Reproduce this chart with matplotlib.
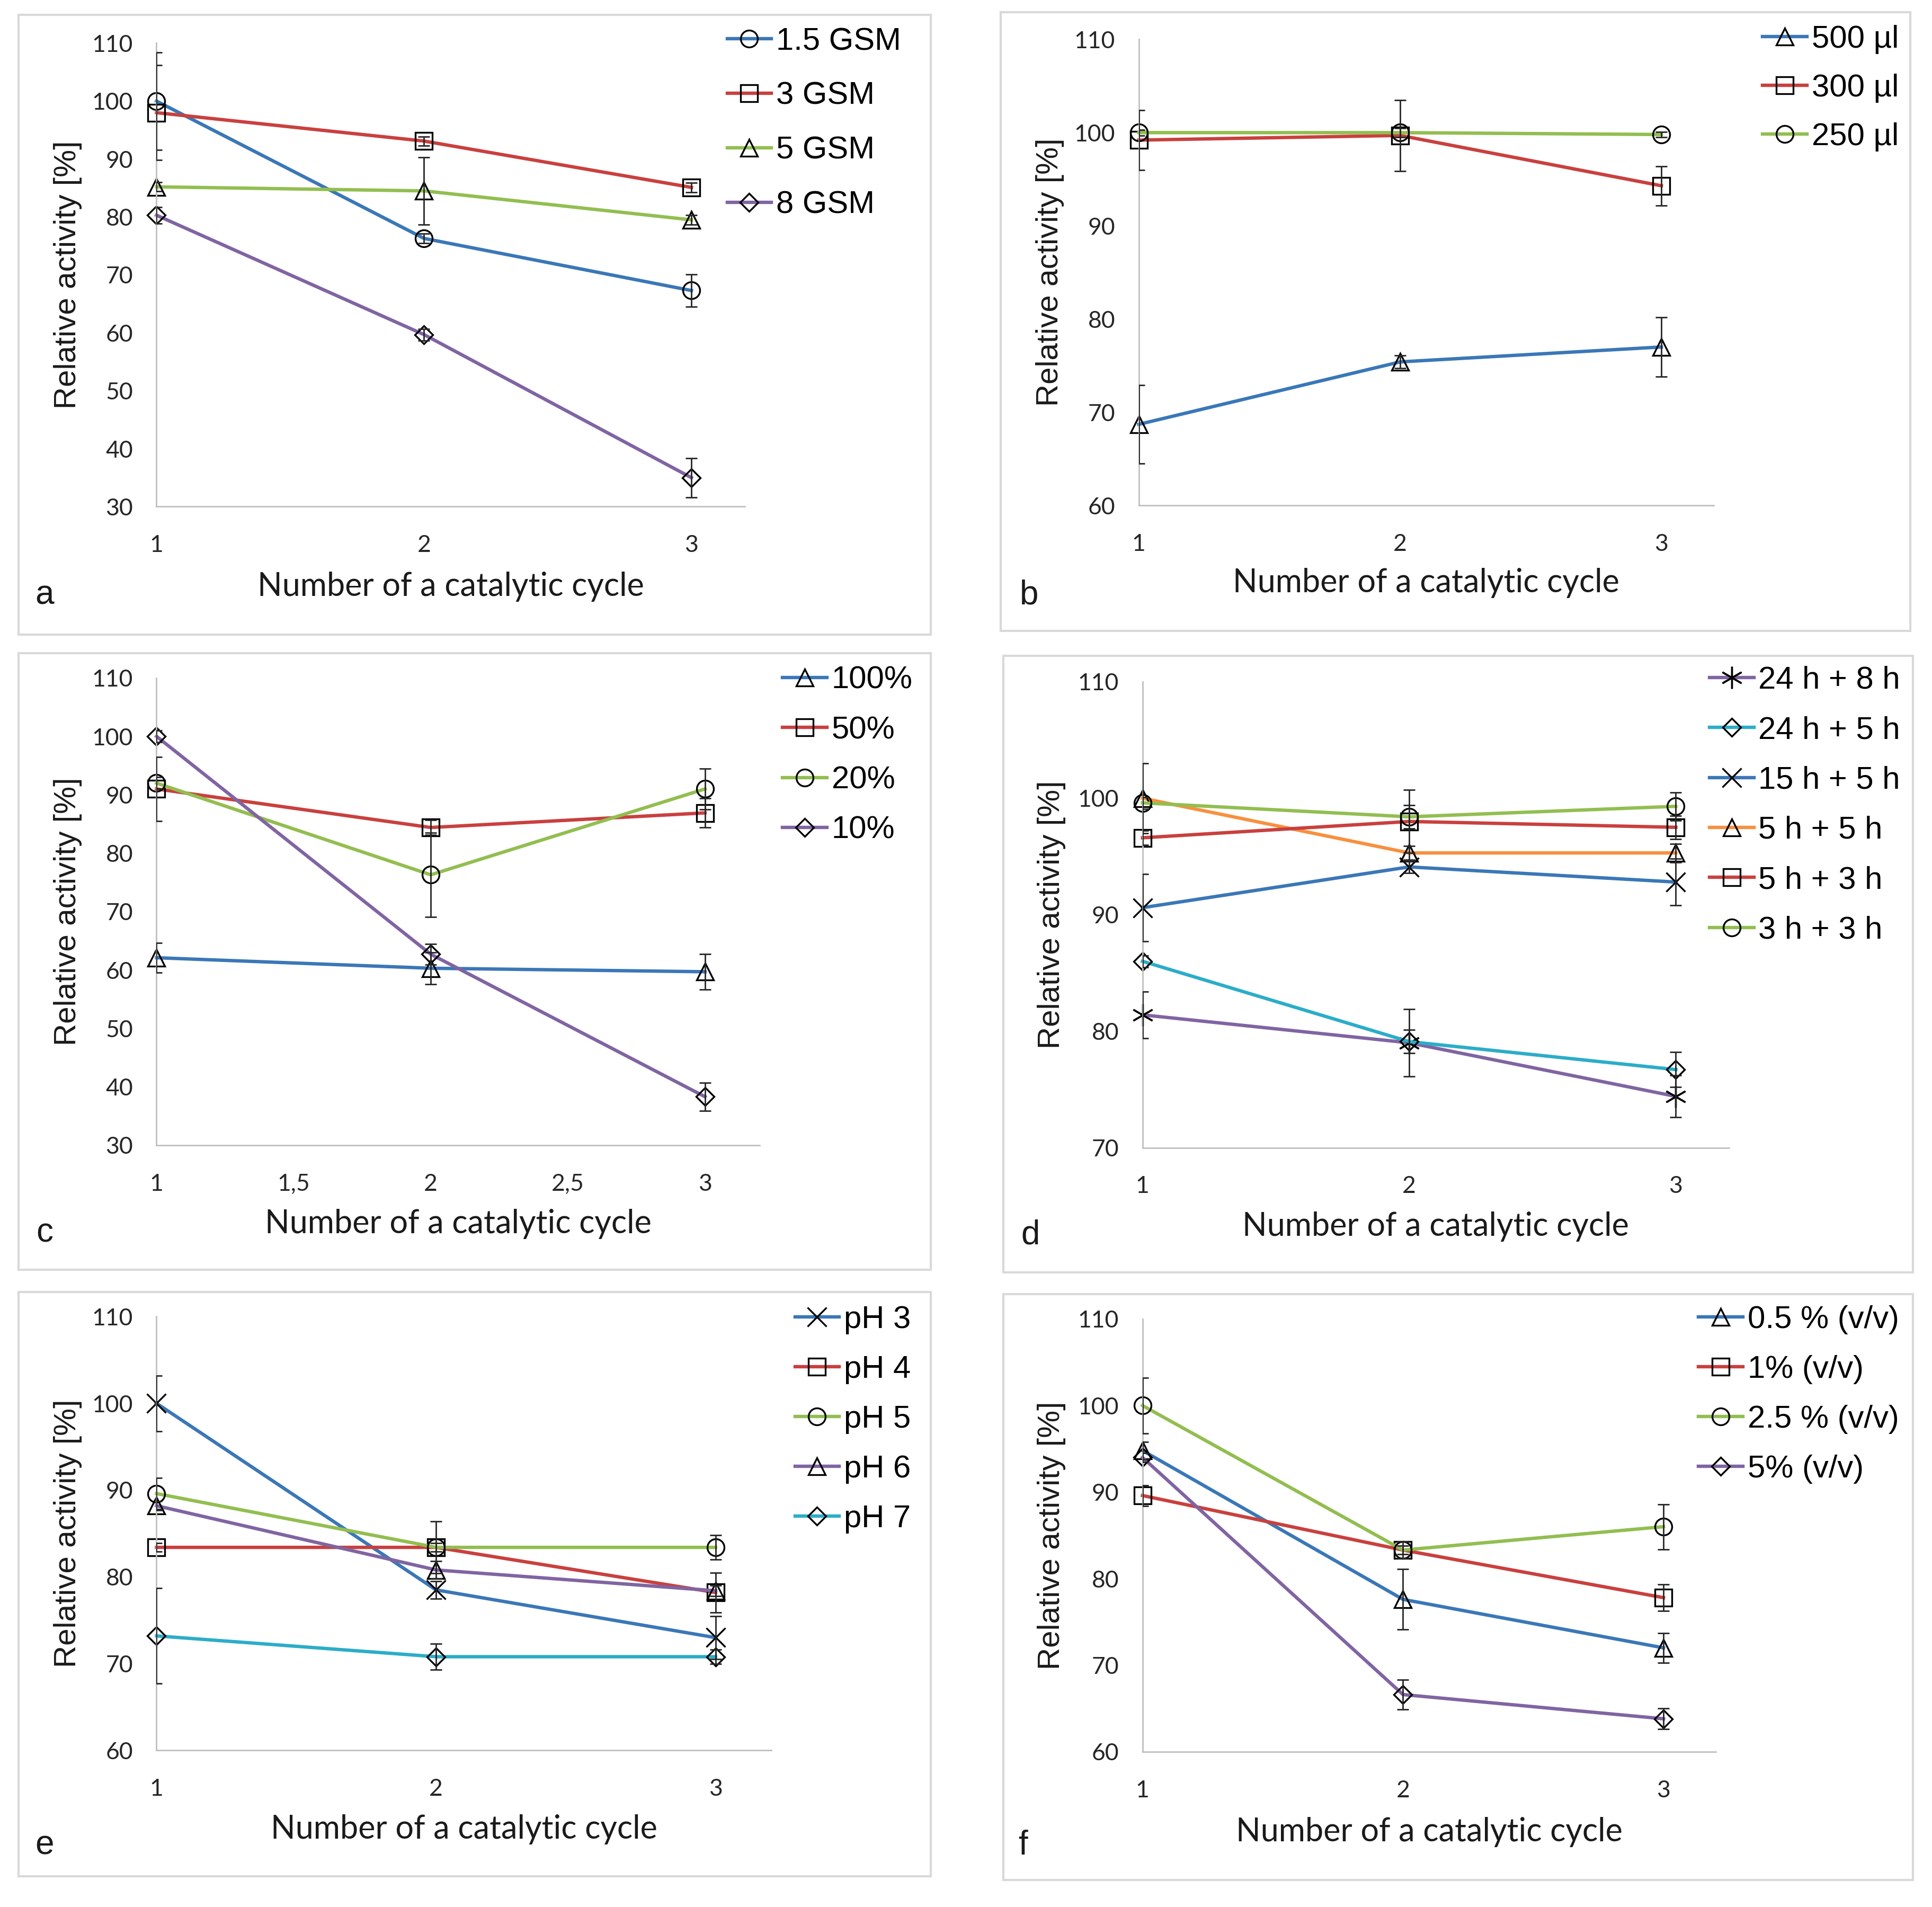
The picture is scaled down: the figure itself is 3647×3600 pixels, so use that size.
import numpy as np
import matplotlib
matplotlib.use("Agg")
import matplotlib.pyplot as plt
from matplotlib.patches import Rectangle

# ---- data ----
cycles = [1, 2, 3]

a_labels = ["1.5 GSM", "3 GSM", "5 GSM", "8 GSM"]
a_vals = [[100.0, 76.3, 67.3], [98.0, 93.1, 85.1], [85.2, 84.5, 79.5], [80.3, 59.7, 35.0]]
a_err = [[8.4, 0.8, 2.8], [8.2, 0.8, 0.8], [0.8, 5.8, 0.8], [1.4, 1.0, 3.4]]

b_labels = ["500 µl", "300 µl", "250 µl"]
b_vals = [[68.7, 75.4, 77.0], [99.2, 99.7, 94.3], [100.0, 100.0, 99.8]]
b_err = [[4.2, 0.7, 3.2], [3.2, 3.8, 2.1], [0.3, 0.5, 0.3]]

c_labels = ["100%", "50%", "20%", "10%"]
c_vals = [[62.1, 60.3, 59.7], [91.0, 84.4, 86.9], [92.0, 76.3, 91.0], [100.0, 62.7, 38.3]]
c_err = [[2.5, 2.7, 3.0], [5.5, 1.3, 2.5], [1.0, 7.2, 3.5], [1.0, 1.8, 2.4]]

d_labels = ["24 h + 8 h", "24 h + 5 h", "15 h + 5 h", "5 h + 5 h", "5 h + 3 h", "3 h + 3 h"]
d_vals = [[81.4, 79.0, 74.4], [86.0, 79.1, 76.7], [90.6, 94.1, 92.8],
          [100.0, 95.3, 95.3], [96.6, 98.0, 97.5], [99.6, 98.4, 99.3]]
d_err = [[2.0, 2.9, 1.8], [0.5, 1.0, 1.5], [2.9, 0.5, 2.0],
         [3.0, 0.6, 0.8], [0.6, 2.7, 1.0], [0.5, 1.0, 1.2]]

e_labels = ["pH 3", "pH 4", "pH 5", "pH 6", "pH 7"]
e_vals = [[100.0, 78.5, 73.0], [83.4, 83.4, 78.2], [89.6, 83.4, 83.4], [88.2, 80.8, 78.4], [73.2, 70.8, 70.8]]
e_err = [[3.2, 1.0, 2.5], [0.5, 3.0, 2.3], [1.8, 0.5, 1.4], [0.5, 1.0, 0.6], [5.5, 1.5, 0.8]]

f_labels = ["0.5 % (v/v)", "1% (v/v)", "2.5 % (v/v)", "5% (v/v)"]
f_vals = [[94.8, 77.6, 72.0], [89.6, 83.3, 77.8], [100.0, 83.3, 86.0], [94.0, 66.6, 63.8]]
f_err = [[1.0, 3.5, 1.7], [1.2, 1.0, 1.5], [3.2, 0.5, 2.6], [0.5, 1.7, 1.2]]

# ---- styles ----
BLUE, RED, GREEN = "#3A77B7", "#C9403E", "#92BE50"
PURPLE, CYAN, ORANGE = "#8064A2", "#2BADC8", "#F7903F"
AST = (6, 2, 0)

panels = [
    dict(letter="a", labels=a_labels, vals=a_vals, err=a_err,
         colors=[BLUE, RED, GREEN, PURPLE], markers=["o", "s", "^", "D"],
         ylim=(30, 110), box=(15, 12, 755, 515), ax=(127, 35, 604.4, 411),
         leg=(590, 22), lsp=0.8, ylx=55, xly=476, let=(36, 483)),
    dict(letter="b", labels=b_labels, vals=b_vals, err=b_err,
         colors=[BLUE, RED, GREEN], markers=["^", "s", "o"],
         ylim=(60, 110), box=(812, 10, 1550, 512), ax=(924, 32, 1390.4, 410),
         leg=(1430, 20), lsp=0.62, ylx=852, xly=473, let=(835, 483)),
    dict(letter="c", labels=c_labels, vals=c_vals, err=c_err,
         colors=[BLUE, RED, GREEN, PURPLE], markers=["^", "s", "o", "D"],
         ylim=(30, 110), box=(15, 530, 755, 1030), ax=(127, 550, 616.5, 929),
         leg=(635, 540), lsp=0.66, ylx=55, xly=993, let=(36, 1000), half=True),
    dict(letter="d", labels=d_labels, vals=d_vals, err=d_err,
         colors=[PURPLE, CYAN, BLUE, ORANGE, RED, GREEN], markers=[AST, "D", "x", "^", "s", "o"],
         ylim=(70, 110), box=(814, 532, 1552, 1032), ax=(927, 553, 1403, 931),
         leg=(1387, 540), lsp=0.66, ylx=853, xly=995, let=(836, 1002)),
    dict(letter="e", labels=e_labels, vals=e_vals, err=e_err,
         colors=[BLUE, RED, GREEN, PURPLE, CYAN], markers=["x", "s", "o", "^", "D"],
         ylim=(60, 110), box=(15, 1048, 755, 1522), ax=(127, 1068, 626, 1420),
         leg=(645, 1059), lsp=0.65, ylx=55, xly=1484, let=(36, 1497)),
    dict(letter="f", labels=f_labels, vals=f_vals, err=f_err,
         colors=[BLUE, RED, GREEN, PURPLE], markers=["^", "s", "o", "D"],
         ylim=(60, 110), box=(814, 1050, 1552, 1525), ax=(927, 1070, 1392, 1421),
         leg=(1378, 1059), lsp=0.65, ylx=853, xly=1486, let=(830, 1497)),
]

W, H = 1568.0, 1547.0
NARROW = ["Lato", "DejaVu Sans"]
ARIAL = ["Liberation Sans", "DejaVu Sans"]


def fx(px):
    return px / W


def fy(py):
    return 1 - py / H


def msize(mk):
    if mk == "D":
        return 8.5
    if mk == AST:
        return 15
    if mk == "x":
        return 13
    return 11.5


fig = plt.figure(figsize=(18.24, 18.0), dpi=200)

for p in panels:
    x0, y0, x1, y1 = p["box"]
    fig.patches.append(Rectangle((fx(x0), fy(y1)), fx(x1) - fx(x0), fy(y0) - fy(y1),
                                 transform=fig.transFigure, fill=False,
                                 edgecolor="#D9D9D9", linewidth=1.5, zorder=0))
    l, t, r, b = p["ax"]
    ax = fig.add_axes([fx(l), fy(b), fx(r) - fx(l), fy(t) - fy(b)])
    for i, lab in enumerate(p["labels"]):
        mk = p["markers"][i]
        ax.plot(cycles, p["vals"][i], color=p["colors"][i], lw=2.3, marker=mk,
                markersize=msize(mk), markerfacecolor="none", markeredgecolor="black",
                markeredgewidth=1.2, label=lab, clip_on=False, zorder=2)
        ax.errorbar(cycles, p["vals"][i], yerr=p["err"][i], fmt="none",
                    ecolor="#262626", elinewidth=1.0, capsize=4, capthick=1.0, zorder=3)
    ax.set_xlim(1, 3.2)
    ax.set_ylim(*p["ylim"])
    ax.set_yticks(np.arange(p["ylim"][0], p["ylim"][1] + 1, 10))
    if p.get("half"):
        ax.set_xticks([1, 1.5, 2, 2.5, 3])
        ax.set_xticklabels(["1", "1,5", "2", "2,5", "3"])
    else:
        ax.set_xticks([1, 2, 3])
    for s in ["top", "right"]:
        ax.spines[s].set_visible(False)
    for s in ["left", "bottom"]:
        ax.spines[s].set_color("#BFBFBF")
        ax.spines[s].set_linewidth(1.0)
    ax.tick_params(length=0, labelsize=16, colors="#262626")
    ax.tick_params(axis="y", pad=16)
    ax.tick_params(axis="x", pad=19)
    for tl in ax.get_xticklabels() + ax.get_yticklabels():
        tl.set_family(NARROW)
    ax.set_ylabel("Relative activity [%]", fontsize=21, family=ARIAL, color="#1A1A1A")
    ax.yaxis.set_label_coords((p["ylx"] - l) / (r - l), 0.5)
    ax.yaxis.label.set_va("center")
    ax.set_xlabel("Number of a catalytic cycle", fontsize=22, family=NARROW, color="#1A1A1A")
    ax.xaxis.set_label_coords(0.5, -(p["xly"] - b) / (b - t))
    ax.xaxis.label.set_va("center")
    lx, ly = p["leg"]
    ax.legend(loc="upper left", bbox_to_anchor=(fx(lx), fy(ly)), bbox_transform=fig.transFigure,
              frameon=False, prop={"family": ARIAL, "size": 21.5},
              handlelength=1.4, handletextpad=0.15, labelspacing=p["lsp"],
              borderpad=0, borderaxespad=0)
    fig.text(fx(p["let"][0]), fy(p["let"][1]), p["letter"], fontsize=23, family=ARIAL,
             ha="center", va="center", color="#1A1A1A")

fig.savefig("out.png", dpi=200, facecolor="white")
